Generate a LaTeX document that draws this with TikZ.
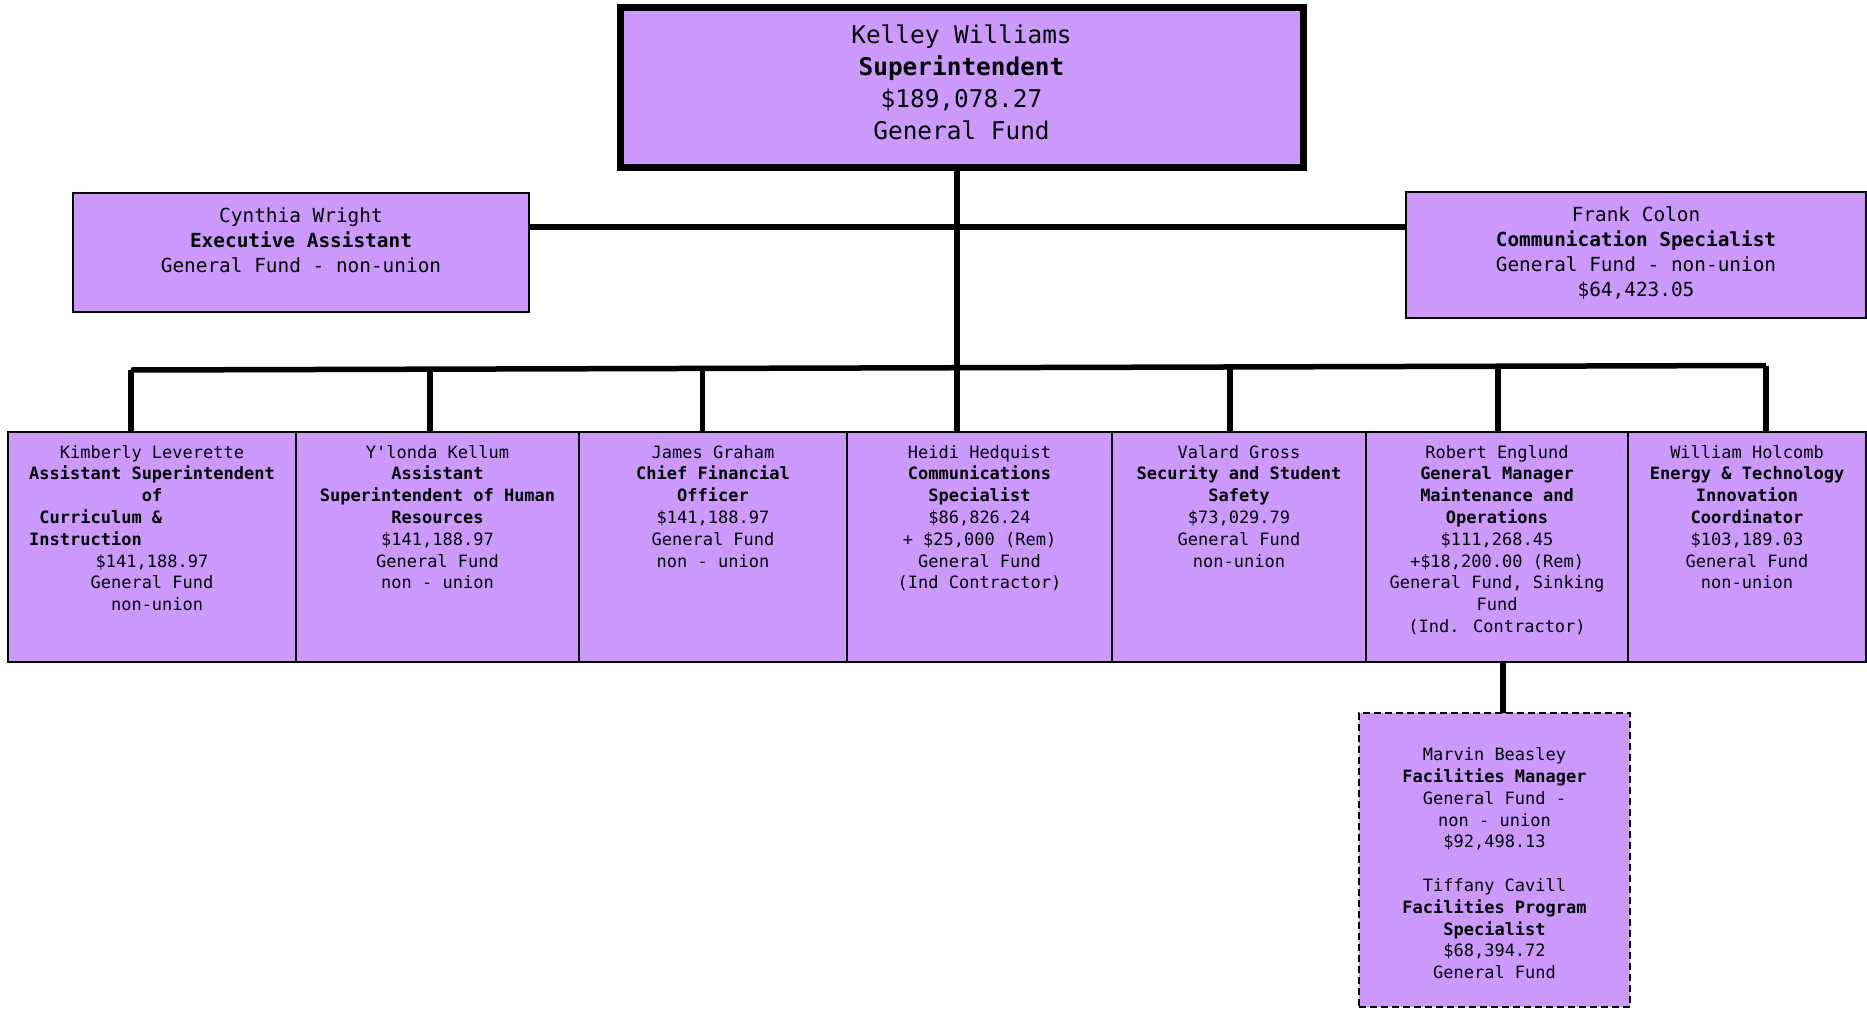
\documentclass[tikz,border=0pt]{standalone}
\usepackage{fontspec}
\newfontfamily\mono{DejaVu Sans Mono}
\usetikzlibrary{calc}
\definecolor{boxfill}{HTML}{CC99FF}
\begin{document}
\begin{tikzpicture}[x=1pt,y=-1pt,
  box/.style={draw=black, line width=2pt, fill=boxfill, inner sep=0pt, outer sep=0pt},
  topbox/.style={box, line width=7pt},
  dashbox/.style={box, line width=2.5pt, dash pattern=on 7pt off 4pt},
  txt/.style={anchor=north, inner sep=0pt, align=center, font=\mono\fontsize{17}{21.8}\selectfont},
  midtxt/.style={txt, font=\mono\fontsize{19.4}{25}\selectfont},
  toptxt/.style={txt, font=\mono\fontsize{24.4}{31.8}\selectfont},
  conn/.style={line width=5.5pt}
]
\useasboundingbox[fill=white] (0,0) rectangle (1867,1009);

% boxes
\node[topbox, minimum width=683pt, minimum height=160pt] (top) at (961.5,87) {};
\node[box, minimum width=456pt, minimum height=119pt] (cyn) at (301,252.5) {};
\node[box, minimum width=460pt, minimum height=126pt] (fra) at (1636,255) {};
\node[box, minimum width=288pt, minimum height=230pt] (kim) at (152,547) {};
\node[box, minimum width=283pt, minimum height=230pt] (ylo) at (437.5,547) {};
\node[box, minimum width=268pt, minimum height=230pt] (jam) at (713,547) {};
\node[box, minimum width=265pt, minimum height=230pt] (hei) at (979.5,547) {};
\node[box, minimum width=254pt, minimum height=230pt] (val) at (1239,547) {};
\node[box, minimum width=262pt, minimum height=230pt] (rob) at (1497,547) {};
\node[box, minimum width=238pt, minimum height=230pt] (wil) at (1747,547) {};
\node[dashbox, minimum width=271pt, minimum height=294pt] (mar) at (1494.5,860) {};

% texts
\newcommand{\fr}{\rule{0pt}{0.85em}}
\node[toptxt, at=(top.north), yshift=-16pt] (topT) {\fr Kelley Williams\\ \textbf{Superintendent}\\ \$189,078.27\\ General Fund};
\node[midtxt, at=(cyn.north), yshift=-12.6pt] (cynT) {\fr Cynthia Wright\\ \textbf{Executive Assistant}\\ General Fund - non-union};
\node[midtxt, at=(fra.north), yshift=-12.4pt] (fraT) {\fr Frank Colon\\ \textbf{Communication Specialist}\\ General Fund - non-union\\ \$64,423.05};
\node[txt, at=(kim.north), yshift=-11.5pt] (kimT) {\fr Kimberly Leverette\\ \textbf{Assistant Superintendent}\\ \textbf{of}\\ \textbf{\rlap{\phantom{x}Curriculum \&}\phantom{Assistant Superintendent}}\\ \textbf{\rlap{Instruction}\phantom{Assistant Superintendent}}\\ \$141,188.97\\ General Fund\\ \phantom{x}non-union};
\node[txt, at=(ylo.north), yshift=-11.5pt] (yloT) {\fr Y'londa Kellum\\ \textbf{Assistant}\\ \textbf{Superintendent of Human}\\ \textbf{Resources}\\ \$141,188.97\\ General Fund\\ non - union};
\node[txt, at=(jam.north), yshift=-11.5pt] (jamT) {\fr James Graham\\ \textbf{Chief Financial}\\ \textbf{Officer}\\ \$141,188.97\\ General Fund\\ non - union};
\node[txt, at=(hei.north), yshift=-11.5pt] (heiT) {\fr Heidi Hedquist\\ \textbf{Communications}\\ \textbf{Specialist}\\ \$86,826.24\\ + \$25,000 (Rem)\\ General Fund\\ (Ind Contractor)};
\node[txt, at=(val.north), yshift=-11.5pt] (valT) {\fr Valard Gross\\ \textbf{Security and Student}\\ \textbf{Safety}\\ \$73,029.79\\ General Fund\\ non-union};
\node[txt, at=(rob.north), yshift=-11.5pt] (robT) {\fr Robert Englund\\ \textbf{General Manager}\\ \textbf{Maintenance and}\\ \textbf{Operations}\\ \$111,268.45\\ +\$18,200.00 (Rem)\\ General Fund, Sinking\\ Fund\\ (Ind. Contractor)};
\node[txt, at=(wil.north), yshift=-11.5pt] (wilT) {\fr William Holcomb\\ \textbf{Energy \& Technology}\\ \textbf{Innovation}\\ \textbf{Coordinator}\\ \$103,189.03\\ General Fund\\ non-union};
\node[txt, at=(mar.north), yshift=-33pt] (marT) {\fr Marvin Beasley\\ \textbf{Facilities Manager}\\ General Fund -\\ non - union\\ \$92,498.13\\ \mbox{}\\ Tiffany Cavill\\ \textbf{Facilities Program}\\ \textbf{Specialist}\\ \$68,394.72\\ General Fund};

% connector coordinates
\coordinate (hl) at (957,227);
\coordinate (d1) at (131,370);
\coordinate (d2) at (430,369.2);
\coordinate (d3) at (702.5,368.4);
\coordinate (d4) at (957,367.7);
\coordinate (d5) at (1230,367);
\coordinate (d6) at (1498,366.2);
\coordinate (d7) at (1766,365.5);
\coordinate (m) at (1503,690);

% connectors
\draw[conn] (top.south -| d4) -- (d4);
\draw[conn] (cyn.east |- hl) -- (fra.west |- hl);
\draw[conn] (d1) -- (d7);
\draw[conn] (d1) -- (d1 |- kim.north);
\draw[conn] (d2) -- (d2 |- ylo.north);
\draw[conn] (d3) -- (d3 |- jam.north);
\draw[conn] (d4) -- (d4 |- hei.north);
\draw[conn] (d5) -- (d5 |- val.north);
\draw[conn] (d6) -- (d6 |- rob.north);
\draw[conn] (d7) -- (d7 |- wil.north);
\draw[conn] (rob.south -| m) -- (mar.north -| m);
\end{tikzpicture}
\end{document}
